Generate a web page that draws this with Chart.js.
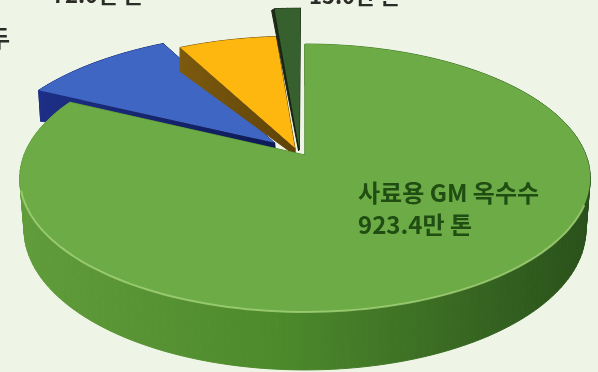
<!DOCTYPE html>
<html>
<head>
<meta charset="utf-8">
<script src="https://cdn.jsdelivr.net/npm/chart.js@4/dist/chart.umd.min.js"></script>
<style>
  html, body { margin: 0; padding: 0; background: #eff5e6; }
  #wrap { width: 598px; height: 372px; }
</style>
</head>
<body>
<div id="wrap"><canvas id="myChart" width="598" height="372"></canvas></div>
<script>
const categories = ["사료용 GM 옥수수", "식용 GM 대두", "식용 GM 옥수수", "기타"];
const values = [923.4, 113.0, 72.0, 15.0];

// colours per slice: top face, side wall from/to
const topColors = ["#6cab46", "#3f66c2", "#fdb70f", "#36602e"];
const wallColors = [
  ["#619c3b", "#29501a"],
  ["#1d2f86", "#0e1a55"],
  ["#7c5a0e", "#5e4208"],
  ["#1c2a14", "#141d0d"],
];

// how each slice is pulled out of the disc, in disc units
const slicePull = [[0, 0], [-0.11, -0.095], [-0.036, -0.054], [-0.02, -0.04]];
const sliceReach = [1, 1.03, 1.03, 1.36];
// wall vector at the rim of each slice, in px
const sliceWall = [[0, 50], [2, 31], [0, 24], [-3, 2]];
const drawOrder = [1, 2, 3, 0];

// tilted disc -> screen
const view = { x: 305, y: 155, rx: 281, ry: 130, tilt: -0.1716 };

function project(u, v) {
  const w = 1 + view.tilt * v;
  return [view.x + (view.rx * u) / w, view.y + (view.ry * v) / w];
}

function slicePoints(arc, i) {
  const [sx, sy] = slicePull[i];
  const reach = sliceReach[i];
  const steps = Math.max(4, Math.ceil((arc.endAngle - arc.startAngle) / 0.03));
  const pts = [{ u: sx, v: sy, t: 0 }];
  for (let k = 0; k <= steps; k++) {
    const a = arc.startAngle + ((arc.endAngle - arc.startAngle) * k) / steps;
    pts.push({ u: sx + reach * Math.cos(a), v: sy + reach * Math.sin(a), t: 1, a: a });
  }
  return pts;
}

function tracePoly(ctx, pts) {
  ctx.beginPath();
  pts.forEach((p, n) => (n ? ctx.lineTo(p[0], p[1]) : ctx.moveTo(p[0], p[1])));
  ctx.closePath();
}

const pie3d = {
  id: "pie3d",
  beforeDatasetsDraw(chart) {
    const ctx = chart.ctx;
    const arcs = chart.getDatasetMeta(0).data;

    drawOrder.forEach((i) => {
      const pts = slicePoints(arcs[i], i);
      const top = pts.map((p) => project(p.u, p.v));
      const [wx, wy] = sliceWall[i];
      // the wall gets taller towards the rim and the near side
      const bottom = pts.map((p, n) => {
        const h = i === 0 ? 1 + 0.16 * p.v : 0.3 + 0.7 * p.t;
        const shrink = i === 0 ? 0.985 : 1;
        return [view.x + (top[n][0] - view.x) * shrink + wx * h, top[n][1] + wy * h];
      });

      const grad = ctx.createLinearGradient(
        Math.min(...top.map((p) => p[0])), 0,
        Math.max(...top.map((p) => p[0])), 0
      );
      grad.addColorStop(0, wallColors[i][0]);
      grad.addColorStop(i === 0 ? 0.45 : 1, i === 0 ? "#4d8a2c" : wallColors[i][1]);
      if (i === 0) grad.addColorStop(1, wallColors[i][1]);

      // wall quads, far ones first
      const quads = [];
      for (let n = 0; n < pts.length; n++) {
        const m = (n + 1) % pts.length;
        quads.push([top[n], top[m], bottom[m], bottom[n]]);
      }
      quads.sort((a, b) => a[2][1] + a[3][1] - b[2][1] - b[3][1]);
      ctx.fillStyle = grad;
      ctx.strokeStyle = grad;
      ctx.lineWidth = 1;
      quads.forEach((q) => {
        tracePoly(ctx, q);
        ctx.fill();
        ctx.stroke();
      });

      tracePoly(ctx, top);
      ctx.fillStyle = topColors[i];
      ctx.fill();

      // soft light edge along the front of the big slice
      if (i === 0) {
        ctx.beginPath();
        let started = false;
        pts.forEach((p, n) => {
          if (p.t && p.a > 0.35 && p.a < 2.9) {
            started ? ctx.lineTo(top[n][0], top[n][1]) : ctx.moveTo(top[n][0], top[n][1]);
            started = true;
          }
        });
        ctx.strokeStyle = "rgba(168,214,124,0.75)";
        ctx.lineWidth = 2;
        ctx.stroke();
      }
    });
    return false;
  },
  afterDraw(chart) {
    const ctx = chart.ctx;
    ctx.save();
    ctx.fillStyle = "#1f4d12";
    ctx.textBaseline = "alphabetic";
    ctx.font = "bold 24px 'Noto Sans CJK KR'";
    ctx.fillText(categories[0], 358, 202);
    ctx.fillText(values[0].toFixed(1) + "만 톤", 358, 234);
    ctx.fillStyle = "#2b2b28";
    ctx.font = "bold 22px 'Noto Sans CJK KR'";
    ctx.fillText(values[2].toFixed(1) + "만 톤", 52, 3);
    ctx.fillText(values[3].toFixed(1) + "만 톤", 309, 4);
    ctx.textAlign = "right";
    ctx.font = "bold 24px 'Noto Sans CJK KR'";
    ctx.fillText(categories[1], 10, 47);
    ctx.restore();
  },
};

new Chart(document.getElementById("myChart").getContext("2d"), {
  type: "pie",
  data: {
    labels: categories,
    datasets: [{ data: values, backgroundColor: topColors, borderWidth: 0 }],
  },
  options: {
    responsive: false,
    animation: false,
    plugins: { legend: { display: false }, tooltip: { enabled: false } },
  },
  plugins: [pie3d],
});
</script>
</body>
</html>
